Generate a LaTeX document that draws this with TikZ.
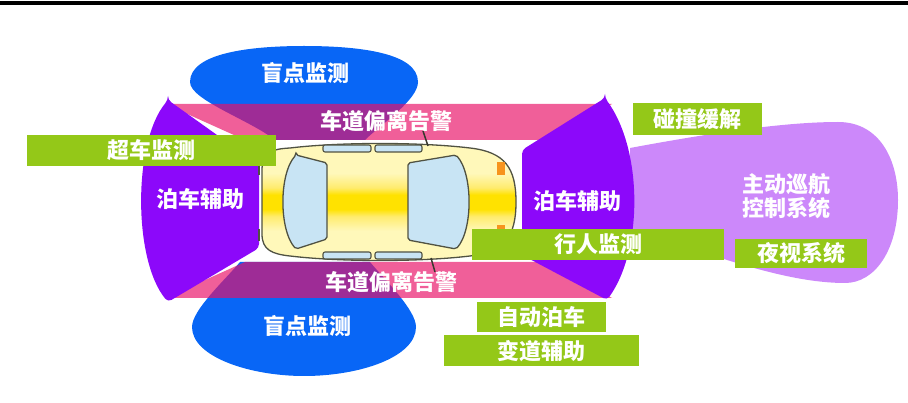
\documentclass[tikz,border=0pt]{standalone}
\usepackage{fontspec}
\setmainfont{Noto Sans CJK SC}
\usepackage{xcolor}
\definecolor{white}{RGB}{255,255,255}
\definecolor{blindblue}{RGB}{8,102,246}
\definecolor{lanepink}{RGB}{232,16,103}
\definecolor{parkviolet}{RGB}{140,8,250}
\definecolor{acclilac}{RGB}{204,136,250}
\definecolor{taggreen}{RGB}{148,200,24}
\definecolor{carpale}{RGB}{255,248,186}
\definecolor{carmid}{RGB}{255,236,110}
\definecolor{caryellow}{RGB}{255,226,0}
\definecolor{glass}{RGB}{200,228,244}
\definecolor{carline}{RGB}{80,82,66}
\definecolor{lamp}{RGB}{247,148,29}
\usepackage{tikz}
\usetikzlibrary{positioning}
\pgfdeclareverticalshading{carbody}{100bp}{color(0bp)=(carpale); color(25bp)=(carpale);
  color(38bp)=(carpale); color(44bp)=(carmid); color(47bp)=(caryellow); color(53bp)=(caryellow);
  color(56bp)=(carmid); color(62bp)=(carpale); color(75bp)=(carpale); color(100bp)=(carpale)}

\begin{document}
\begin{tikzpicture}[x=1pt, y=-1pt, font=\fontsize{22}{24}\selectfont\bfseries,
    tag/.style={rectangle, fill=taggreen, text=white, minimum height=31pt, inner sep=0pt},
    word/.style={text=white, align=center, inner sep=0pt},
    body/.style={draw=carline, line width=1.3pt}]
    \useasboundingbox (0,0) rectangle (908,403);
    \fill[black] (0,0.8) rectangle (908,4.6);

    \fill[blindblue] (190,82) .. controls (190,53) and (250,46) .. (304,46) .. controls (360,46) and (418,53) .. (418,82)
        .. controls (418,100) and (380,125) .. (365,140) -- (275,140) .. controls (250,120) and (190,100) .. (190,82) -- cycle;
    \fill[blindblue] (192,327) .. controls (192,357) and (250,376) .. (304,376) .. controls (360,376) and (416,357) .. (416,327)
        .. controls (416,310) and (385,280) .. (370,262) -- (240,262) .. controls (225,280) and (192,310) .. (192,327) -- cycle;

    \fill[lanepink, opacity=.67] (165,104) -- (612,104) -- (540,140) -- (245,140) -- cycle;
    \fill[lanepink, opacity=.67] (245,262) -- (540,262) -- (612,298) -- (165,298) -- cycle;

    \fill[acclilac] (630,148) .. controls (700,135) and (780,122) .. (838,122) .. controls (880,122) and (898,160) .. (898,200)
        .. controls (898,250) and (875,283) .. (845,283) .. controls (780,283) and (700,250) .. (630,228) -- cycle;

    \fill[parkviolet, rounded corners=4pt] (168,100) -- (259,165) -- (259,248) -- (168,302)
        .. controls (133,260) and (133,142) .. (168,100) -- cycle;
    \fill[parkviolet, rounded corners=4pt] (605,98) -- (522,150) -- (522,255) -- (607,300)
        .. controls (643,250) and (643,150) .. (605,98) -- cycle;

    \shade[shading=carbody, body] (262,170) .. controls (262,152) and (272,149) .. (290,148) .. controls (340,142) and (420,142) .. (470,148)
        .. controls (505,152) and (516,168) .. (516,202) .. controls (516,236) and (505,252) .. (470,256)
        .. controls (420,262) and (340,262) .. (290,256) .. controls (272,254) and (262,250) .. (262,234) -- cycle;
    \filldraw[fill=glass, draw=carline, line width=1.3pt, rounded corners=2pt] (296,155) -- (327,163) -- (327,239) -- (296,249)
        .. controls (279,230) and (279,174) .. (296,155) -- cycle;
    \filldraw[fill=glass, draw=carline, line width=1.3pt, rounded corners=2pt] (408,163) -- (456,155)
        .. controls (473,174) and (473,230) .. (456,249) -- (408,240) -- cycle;
    \foreach \x/\xx in {323/371, 375/422} {
        \filldraw[fill=glass, draw=carline, line width=1.1pt, rounded corners=2pt] (\x,145) rectangle (\xx,152);
        \filldraw[fill=glass, draw=carline, line width=1.1pt, rounded corners=2pt] (\x,252) rectangle (\xx,259);
    }
    \draw[carline!70!black, line width=1.5pt] (428,146) -- (423,131);
    \draw[carline!70!black, line width=1.5pt] (431,258) -- (435,272);
    \draw[carline, line width=1.5pt] (259,163) -- (259,175);
    \draw[carline, line width=1.5pt] (259,229) -- (259,241);
    \fill[lamp] (497,162) rectangle (505,175);
    \fill[lamp] (497,225) rectangle (505,232);

    \node[word] (BT) at (305,73) {盲点监测};
    \node[word] (BB) at (307,326) {盲点监测};
    \node[word] (LT) at (386,121) {车道偏离告警};
    \node[word] (LB) at (391,282) {车道偏离告警};
    \node[word] (PR) at (200,199) {泊车辅助};
    \node[word] (PF) at (577,201) {泊车辅助};
    \node[word] (C) at (786,196) {主动巡航\\控制系统};

    \node[tag, minimum width=129pt, minimum height=32pt] (A) at (697.5,119) {碰撞缓解};
    \node[tag, minimum width=249pt] (B) at (151.5,150.5) {超车监测};
    \node[tag, minimum width=252pt] (D) at (598,244.5) {行人监测};
    \node[tag, minimum width=132pt, minimum height=29pt] (E) at (801,253.5) {夜视系统};
    \node[tag, minimum width=129pt, minimum height=30pt] (F) at (541.5,317) {自动泊车};
    \node[tag, minimum width=195pt, below=3pt of F] (G) {变道辅助};
\end{tikzpicture}
\end{document}
